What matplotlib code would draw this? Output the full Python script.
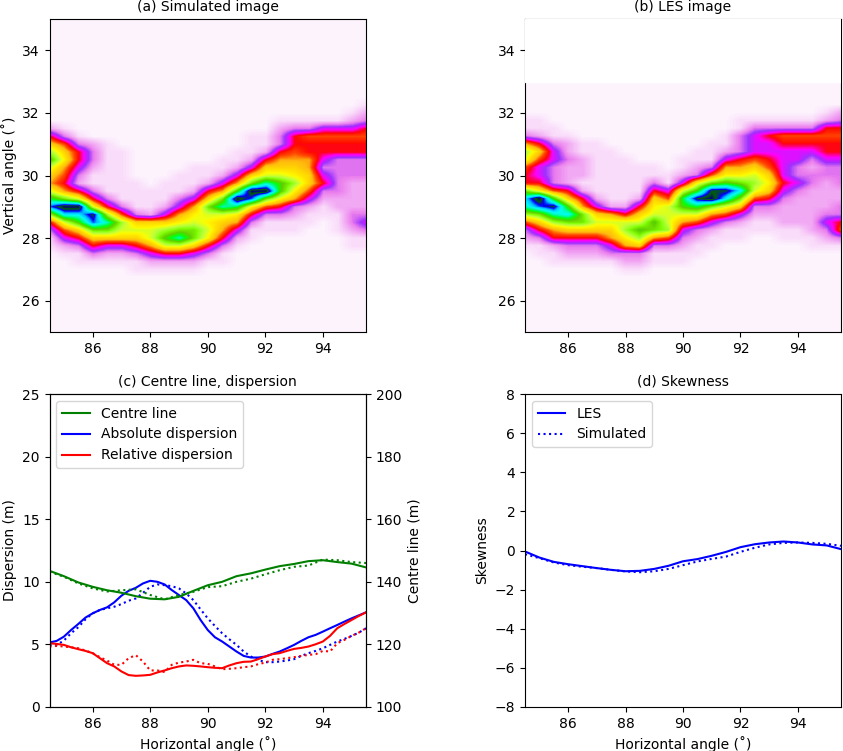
import numpy as np
import matplotlib
matplotlib.use('Agg')
import matplotlib.pyplot as plt

# horizontal angle samples
angles = [84.5, 85, 85.5, 86, 86.5, 87, 87.5, 88, 88.5, 89, 89.5, 90, 90.5,
          91, 91.5, 92, 92.5, 93, 93.5, 94, 94.5, 95, 95.5]
angles_fine = [84.5, 84.75, 85, 85.25, 85.5, 85.75, 86, 86.25, 86.5, 86.75, 87, 87.25, 87.5, 87.75, 88,
               88.25, 88.5, 88.75, 89, 89.25, 89.5, 89.75, 90, 90.25, 90.5, 90.75, 91, 91.25, 91.5, 91.75,
               92, 92.25, 92.5, 92.75, 93, 93.25, 93.5, 93.75, 94, 94.25, 94.5, 94.75, 95, 95.25, 95.5]

# image columns, one string per angle, vertical angle 32.5 down to 26.5 in 0.25 steps
# each character is a colour level
sim_columns = [
    "0000258bda87aehb531100000",
    "0000136897657cjga64210000",
    "0000013554325ajgd85311000",
    "00000023321135aihc8531000",
    "000000111111135bfc8421000",
    "0000000111111136ba8421000",
    "00000000000111138a8531100",
    "00000000000011128aa742100",
    "00000000000111248bda52100",
    "00000000001113479cfa52100",
    "0000000001112479acc842100",
    "00000000011258ca9a9531000",
    "0000000011247cfa875311000",
    "000000011247dje9742100000",
    "00000111248cjh95311000000",
    "0000011258afjc63110000000",
    "0001233578add953110000000",
    "00013556789b9732110000000",
    "0001365577886421100000000",
    "0001465543453211000000000",
    "0001465533333221110000000",
    "0012465533322223321100000",
    "0123565533322223431100000",
]

les_columns = [
    "0001137ba655cgfb632100000",
    "0001125864459jhc853110000",
    "0000113443336difb75211000",
    "00000122322258dgc85321000",
    "000000112221257cc85321000",
    "0000001111111248a85321000",
    "0000000111111127a87431000",
    "0000000011111125ab9732100",
    "0000000001111258adb832100",
    "000000000113589adc7311000",
    "00000000001146aaab6311000",
    "000000001124aeda743211000",
    "000000011239diea632110000",
    "00000011136cijc7421100000",
    "00000112479diga6311000000",
    "00011333579cgc84211000000",
    "0001344468aba632110000000",
    "0001354456898532110000000",
    "0001365444454322211000000",
    "0001365443343222211000000",
    "0001365432332222221100000",
    "0012565543322223432100000",
    "0023565543332233563100000",
]

level_chars = "0123456789abcdefghijk"
level_values = [0.006, 0.025, 0.07, 0.11, 0.19, 0.26, 0.31, 0.36, 0.41, 0.46, 0.5,
                0.55, 0.6, 0.65, 0.7, 0.75, 0.8, 0.87, 0.94, 1.0, 1.0]

# centre line (m), twin axis
centre_les = [143.5, 141.8, 139.8, 138.4, 137.3, 136.5, 135.4, 134.6, 134.4, 135.2, 137.1, 138.9,
              140.0, 141.8, 142.7, 143.9, 145.0, 145.7, 146.6, 146.9, 146.3, 145.8, 144.6]
centre_sim = [143.2, 141.6, 139.5, 137.9, 136.9, 137.3, 137.6, 135.8, 134.4, 135.8, 136.8, 138.3,
              138.6, 140.0, 141.0, 142.4, 143.7, 144.8, 145.2, 147.1, 146.9, 146.3, 146.0]

# dispersion (m)
abs_les = [5.15, 5.28, 5.62, 6.15, 6.63, 7.14, 7.48, 7.75, 7.96, 8.36, 8.89, 9.28, 9.52, 9.87, 10.08,
           10.0, 9.79, 9.34, 8.94, 8.54, 7.88, 6.95, 6.15, 5.57, 5.23, 4.83, 4.43, 4.08, 3.95, 3.95,
           4.03, 4.24, 4.43, 4.69, 4.96, 5.28, 5.57, 5.76, 6.02, 6.29, 6.55, 6.82, 7.08, 7.32, 7.56]
abs_sim = [4.96, 4.96, 5.31, 5.89, 6.37, 7.0, 7.48, 7.75, 7.88, 8.01, 8.22, 8.49, 8.67, 9.12, 9.6,
           9.79, 9.73, 9.65, 9.47, 9.07, 8.54, 7.8, 7.08, 6.47, 5.89, 5.41, 4.96, 4.43, 4.03, 3.77,
           3.58, 3.58, 3.63, 3.71, 3.82, 4.08, 4.3, 4.48, 4.69, 4.96, 5.23, 5.44, 5.68, 5.94, 6.29]
rel_les = [5.09, 5.04, 4.96, 4.77, 4.62, 4.48, 4.30, 3.90, 3.50, 3.24, 2.84, 2.55, 2.49, 2.52, 2.57,
           2.76, 2.92, 3.10, 3.24, 3.32, 3.29, 3.24, 3.18, 3.13, 3.10, 3.32, 3.50, 3.61, 3.63, 3.82,
           4.03, 4.22, 4.30, 4.48, 4.64, 4.72, 4.83, 5.01, 5.23, 5.68, 6.29, 6.63, 6.95, 7.27, 7.56]
rel_sim = [4.83, 4.88, 4.83, 4.77, 4.69, 4.51, 4.30, 3.98, 3.71, 3.37, 3.37, 3.9, 4.14, 3.63, 2.92,
           2.92, 2.79, 3.37, 3.55, 3.63, 3.77, 3.5, 3.45, 3.24, 3.02, 3.05, 3.1, 3.18, 3.24, 3.42,
           3.55, 3.77, 3.82, 3.9, 3.98, 4.08, 4.16, 4.22, 4.48, 4.43, 5.09, 5.36, 5.68, 5.94, 6.29]

# skewness
skew_les = [-0.05, -0.36, -0.58, -0.70, -0.80, -0.90, -0.99, -1.06, -1.04, -0.94, -0.78, -0.55,
            -0.44, -0.27, -0.07, 0.17, 0.32, 0.41, 0.46, 0.41, 0.31, 0.26, 0.07]
skew_sim = [-0.19, -0.39, -0.61, -0.75, -0.83, -0.90, -0.99, -1.07, -1.11, -1.06, -0.94, -0.75,
            -0.56, -0.43, -0.31, -0.07, 0.14, 0.31, 0.39, 0.41, 0.39, 0.34, 0.24]


def columns_to_image(columns, rows_above, rows_below):
    # level strings to an array, top row first
    img = np.array([[level_values[level_chars.index(c)] for c in col] for col in columns]).T
    return np.pad(img, ((rows_above, rows_below), (0, 0)), constant_values=level_values[0])


def draw_image(ax, columns, title, top):
    rows_above = int(round((top - 32.5) / 0.25))
    img = columns_to_image(columns, rows_above, 6)
    ax.imshow(img, cmap='gist_ncar_r', vmin=0, vmax=1, aspect='auto', interpolation='bilinear',
              extent=[84.25, 95.75, 24.875, top + 0.125])
    ax.set_xlim(84.5, 95.5)
    ax.set_ylim(25, 35)
    ax.set_xticks([86, 88, 90, 92, 94])
    ax.set_yticks([26, 28, 30, 32, 34])
    ax.set_title(title, fontsize=10)


fig = plt.figure(figsize=(8.43, 7.51), dpi=100)


def make_axes(left, right, top, bottom):
    return fig.add_axes([left / 843, 1 - bottom / 751, (right - left) / 843, (bottom - top) / 751])


ax_a = make_axes(49.5, 366, 19, 332)
ax_b = make_axes(525, 841, 19, 332)
ax_c = make_axes(49.5, 366, 394, 707)
ax_d = make_axes(525, 841, 394, 707)

draw_image(ax_a, sim_columns, "(a) Simulated image", 35)
ax_a.set_ylabel("Vertical angle (˚)")
draw_image(ax_b, les_columns, "(b) LES image", 33)
ax_b.axhspan(33, 35, color='white', zorder=3)

# panel c, centre line on a twin axis
twin = ax_c.twinx()
l1, = twin.plot(angles, centre_les, color='green', label='Centre line')
twin.plot(angles, centre_sim, color='green', linestyle=':')
twin.set_ylim(100, 200)
twin.set_ylabel("Centre line (m)")
l2, = ax_c.plot(angles_fine, abs_les, color='blue', label='Absolute dispersion')
ax_c.plot(angles_fine, abs_sim, color='blue', linestyle=':')
l3, = ax_c.plot(angles_fine, rel_les, color='red', label='Relative dispersion')
ax_c.plot(angles_fine, rel_sim, color='red', linestyle=':')
ax_c.set_xlim(84.5, 95.5)
ax_c.set_ylim(0, 25)
ax_c.set_xticks([86, 88, 90, 92, 94])
ax_c.set_xlabel("Horizontal angle (˚)")
ax_c.set_ylabel("Dispersion (m)")
ax_c.set_title("(c) Centre line, dispersion", fontsize=10)
twin.legend(handles=[l1, l2, l3], loc='upper left')

# panel d
ax_d.plot(angles, skew_les, color='blue', label='LES')
ax_d.plot(angles, skew_sim, color='blue', linestyle=':', label='Simulated')
ax_d.set_xlim(84.5, 95.5)
ax_d.set_ylim(-8, 8)
ax_d.set_xticks([86, 88, 90, 92, 94])
ax_d.set_xlabel("Horizontal angle (˚)")
ax_d.set_ylabel("Skewness")
ax_d.set_title("(d) Skewness", fontsize=10)
ax_d.legend(loc='upper left')

fig.savefig("out.png", dpi=100)
